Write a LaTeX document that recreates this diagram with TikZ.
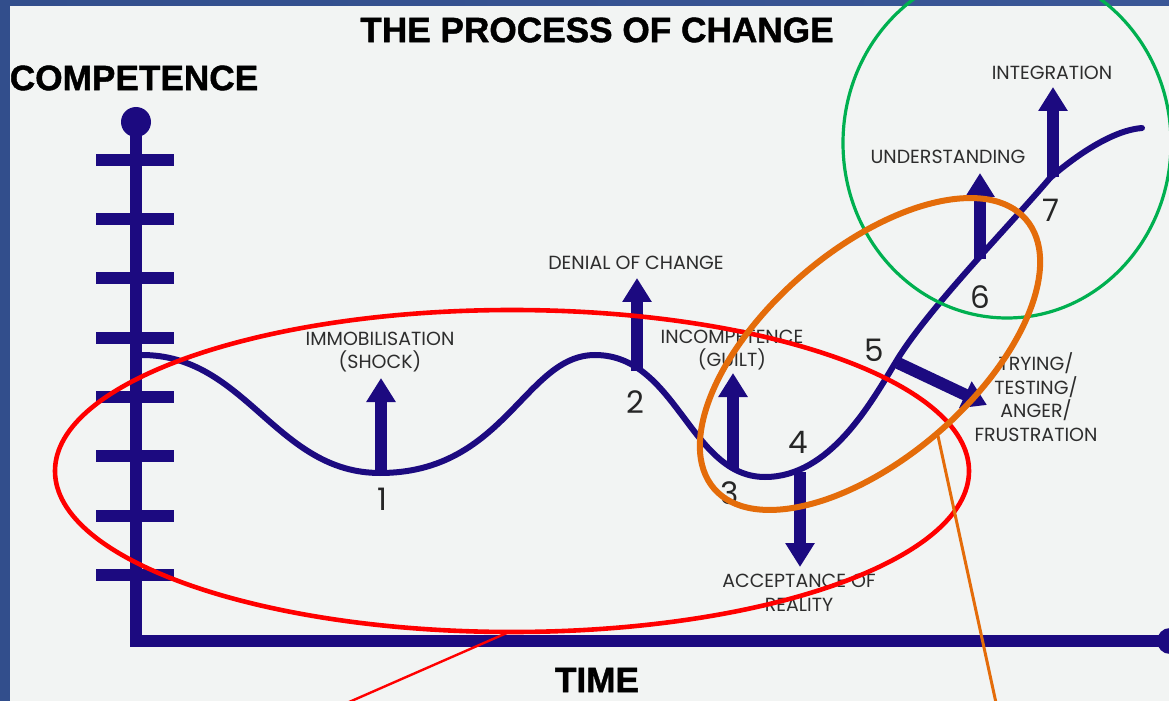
\documentclass[tikz,border=0pt]{standalone}
\usepackage{fontspec}
\setmainfont{Liberation Sans}
\newfontfamily\labelfont{Poppins}
\newfontfamily\headfont[FakeBold=1.2]{Liberation Sans Bold}
\usetikzlibrary{arrows.meta}

\definecolor{navy}{RGB}{28,10,128}
\definecolor{paper}{RGB}{242,244,243}
\definecolor{framedark}{RGB}{50,78,140}
\definecolor{framelight}{RGB}{92,122,194}
\definecolor{ink}{RGB}{45,45,45}
\definecolor{ringred}{RGB}{255,0,0}
\definecolor{ringorange}{RGB}{228,108,10}
\definecolor{ringgreen}{RGB}{0,176,80}

\begin{document}
\begin{tikzpicture}[x=0.5pt,y=-0.5pt,>={Triangle[width=14pt,length=12pt]},
                    line join=miter]
  \tikzstyle{axisline}=[navy,line width=6pt]
  \tikzstyle{curveline}=[navy,line width=3pt,line cap=round]
  \tikzstyle{stagearrow}=[navy,line width=6pt,->]
  \tikzstyle{stagelabel}=[font=\labelfont\fontsize{9.5}{11.8}\selectfont,text=ink,
                          align=center,inner sep=0pt]
  \tikzstyle{stagenum}=[font=\labelfont\fontsize{15.5}{18}\selectfont,text=black!85,inner sep=0pt]
  \tikzstyle{heading}=[font=\headfont\fontsize{17.6}{20}\selectfont,inner sep=0pt]
  \tikzstyle{ring}=[line width=2.3pt]

  \useasboundingbox (0,0) rectangle (1169,701);
  \clip (0,0) rectangle (1169,701);

  % page and frame
  \fill[paper] (0,0) rectangle (1169,701);
  \shade[left color=framedark,middle color=framelight,right color=framedark!80!framelight]
    (0,0) rectangle (1169,6);
  \fill[framedark] (0,0) rectangle (10,701);

  % axes
  \fill[navy] (136,122) circle [radius=15];
  \fill[navy] (1170,641) circle [radius=13];
  \draw[axisline] (136,125) -- (136,641) -- (1170,641);
  \foreach \y in {160,219,278,338,397,456,516,575}
    \draw[axisline] (96,\y) -- (174,\y);

  % the curve
  \draw[curveline] (142,355) .. controls (246,355) and (276,473) .. (380,473)
    .. controls (505,473) and (525,355) .. (595,355)
    .. controls (677,355) and (690,477) .. (765,477)
    .. controls (830,477) and (871,403) .. (897,360)
    .. controls (928,309) and (1011,224) .. (1050,178)
    .. controls (1080,152) and (1115,130) .. (1142,128);

  % stages on the curve and arrow tips
  \coordinate (s1) at (381,474);  \coordinate (a1) at (381,378);
  \coordinate (s2) at (637,371);  \coordinate (a2) at (637,278);
  \coordinate (s3) at (733,468);  \coordinate (a3) at (733,373);
  \coordinate (s4) at (800,472);  \coordinate (a4) at (800,567);
  \coordinate (s5) at (898,363);  \coordinate (a5) at (987,405);
  \coordinate (s6) at (980,259);  \coordinate (a6) at (980,173);
  \coordinate (s7) at (1053,177); \coordinate (a7) at (1053,87);

  \foreach \i in {1,...,7}
    \draw[stagearrow] (s\i) -- (a\i);

  % labels
  \node[stagelabel] (immob)   at (380,352)  {IMMOBILISATION\\(SHOCK)};
  \node[stagelabel] (denial)  at (636,263)  {DENIAL OF CHANGE};
  \node[stagelabel] (incomp)  at (732,350)  {INCOMPETENCE\\(GUILT)};
  \node[stagelabel] (accept)  at (799,593)  {ACCEPTANCE OF\\REALITY};
  \node[stagelabel] (trying)  at (1036,397) {TRYING/\\TESTING/\\ANGER/\\FRUSTRATION};
  \node[stagelabel] (underst) at (948,157)  {UNDERSTANDING};
  \node[stagelabel] (integr)  at (1052,73)  {INTEGRATION};

  \node[stagenum] (n1) at (382,499)  {1};
  \node[stagenum] (n2) at (635,402)  {2};
  \node[stagenum] (n3) at (730,493)  {3};
  \node[stagenum] (n4) at (798,442)  {4};
  \node[stagenum] (n5) at (874,350)  {5};
  \node[stagenum] (n6) at (980,297)  {6};
  \node[stagenum] (n7) at (1051,210) {7};

  \node[heading] (title)      at (597,30)  {THE PROCESS OF CHANGE};
  \node[heading] (competence) at (134,78)  {COMPETENCE};
  \node[heading] (time)       at (597,680) {TIME};

  % rings drawn over the chart
  \draw[ring,ringred] (512,471) ellipse [x radius=457,y radius=161];
  \draw[ringred,line width=1.2pt] (509,632) -- (340,706);
  \draw[ringgreen,line width=1.6pt] (1007,143) ellipse [x radius=164,y radius=175];
  \draw[ringorange,line width=3pt,rotate around={40.8:(870,354)}]
    (870,354) ellipse [x radius=206,y radius=104];
  \draw[ringorange,line width=1.5pt] (938,436) -- (998,712);
\end{tikzpicture}
\end{document}
